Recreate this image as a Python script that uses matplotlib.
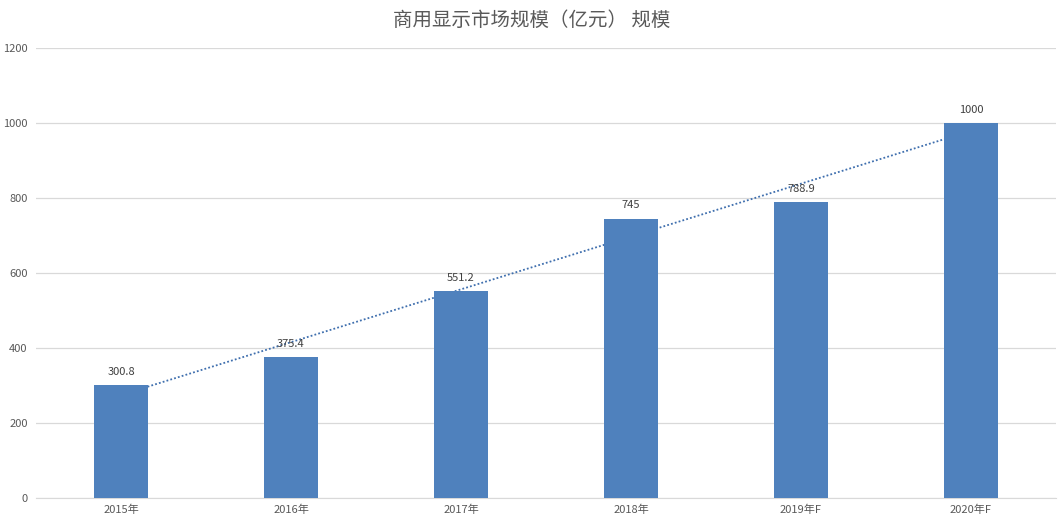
import numpy as np
import matplotlib
matplotlib.use("Agg")
import matplotlib.pyplot as plt

plt.rcParams['font.family'] = ['Noto Sans CJK SC', 'DejaVu Sans']

years = ['2015年', '2016年', '2017年', '2018年', '2019年F', '2020年F']
scale = [300.8, 375.4, 551.2, 745, 788.9, 1000]
labels = ['300.8', '375.4', '551.2', '745', '788.9', '1000']

grey = '#595959'
bar_color = '#4F81BD'

fig = plt.figure(figsize=(10.63, 5.23), dpi=100)
ax = fig.add_axes([36 / 1063, 25 / 523, 1020 / 1063, 450 / 523])

x = np.arange(len(years))
ax.bar(x, scale, width=0.32, color=bar_color, zorder=3)

# linear trendline, sits behind the bars
k, b = np.polyfit(x, scale, 1)
xt = np.array([x[0], x[-1]])
ax.plot(xt, k * xt + b, linestyle=(0, (1, 1.2)), color='#3F6FAE', linewidth=1.3, zorder=2)

for xi, v, t in zip(x, scale, labels):
    ax.annotate(t, (xi, v), xytext=(0, 6), textcoords='offset points',
                ha='center', va='bottom', fontsize=8, color='#404040', zorder=4)

ax.set_xlim(-0.5, len(years) - 0.5)
ax.set_ylim(0, 1200)
ax.set_yticks(np.arange(0, 1201, 200))
ax.set_xticks(x)
ax.set_xticklabels(years)
ax.tick_params(axis='both', length=0, labelsize=8, colors=grey)
ax.tick_params(axis='y', pad=6)
ax.tick_params(axis='x', pad=5)
ax.grid(axis='y', color='#D9D9D9', linewidth=0.9, zorder=0)
ax.set_axisbelow(True)
for s in ['top', 'right', 'left']:
    ax.spines[s].set_visible(False)
ax.spines['bottom'].set_color('#D9D9D9')

fig.suptitle('商用显示市场规模（亿元） 规模', y=0.98, fontsize=14, color=grey)

plt.savefig('out.png', dpi=100)
